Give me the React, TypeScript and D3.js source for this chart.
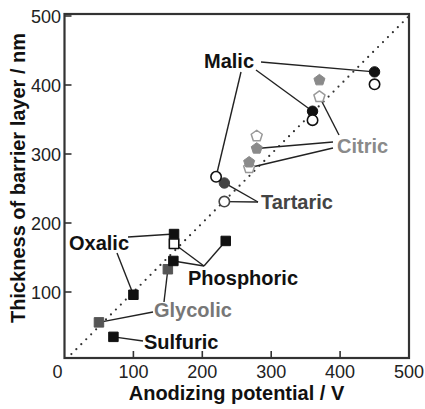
import React, { useEffect, useRef } from "react";
import * as d3 from "d3";

const width = 425;
const height = 409;
const font = "'Liberation Sans', Arial, sans-serif";

// [anodizing potential (V), barrier layer thickness (nm)]
const malicFilled = [[450, 419], [360, 362]];
const malicOpen = [[450, 401], [360, 349], [220, 267]];
const tartaricFilled = [[232, 258]];
const tartaricOpen = [[232, 231]];
const citricFilled = [[370, 407], [279, 308], [268, 288]];
const citricOpen = [[370, 383], [279, 326], [268, 280]];
const oxalicFilled = [[159, 184], [100, 96]];
const phosphoricFilled = [[158, 145], [234, 174]];
const phosphoricOpen = [[159, 170]];
const glycolicFilled = [[150, 133], [50, 56]];
const sulfuricFilled = [[71, 35]];

const xTicks = [100, 200, 300, 400];
const yTicks = [100, 200, 300, 400, 500];
const diagonal = [[10, 10], [500, 500]];

const labels = [
  { text: "Malic", x: 204, y: 68, color: "#111" },
  { text: "Citric", x: 337, y: 153, color: "#8a8a8a" },
  { text: "Tartaric", x: 261, y: 209, color: "#444" },
  { text: "Oxalic", x: 69, y: 250, color: "#111" },
  { text: "Phosphoric", x: 188, y: 285, color: "#111" },
  { text: "Glycolic", x: 154, y: 317, color: "#777" },
  { text: "Sulfuric", x: 144, y: 349, color: "#111" }
];

// label side of each leader (px) -> marker it points to
const leaders = [
  { from: [261, 62], to: malicFilled[0] },
  { from: [256, 70], to: malicFilled[1] },
  { from: [241, 72], to: malicOpen[2] },
  { from: [339, 135], to: citricOpen[0] },
  { from: [333, 142], to: citricFilled[1] },
  { from: [333, 148], to: citricOpen[2] },
  { from: [258, 202], to: tartaricFilled[0] },
  { from: [258, 202], to: tartaricOpen[0] },
  { from: [128, 237], to: oxalicFilled[0] },
  { from: [117, 253], to: oxalicFilled[1] },
  { from: [204, 266], to: phosphoricOpen[0] },
  { from: [204, 266], to: phosphoricFilled[0] },
  { from: [204, 266], to: phosphoricFilled[1] },
  { from: [153, 312], to: glycolicFilled[1] },
  { from: [164, 302], to: glycolicFilled[0] },
  { from: [143, 341], to: sulfuricFilled[0] }
];

const Chart = () => {
  const ref = useRef(null);
  useEffect(() => {
    const svg = d3.select(ref.current);
    svg.selectAll("*").remove();

    const x = d3.scaleLinear().domain([0, 500]).range([64.5, 409]);
    const y = d3.scaleLinear().domain([0, 500]).range([361, 16]);
    const top = 14;
    const bottom = 358;

    // dotted y = x line
    svg
      .append("line")
      .attr("x1", x(diagonal[0][0]))
      .attr("y1", y(diagonal[0][1]))
      .attr("x2", x(diagonal[1][0]))
      .attr("y2", y(diagonal[1][1]))
      .attr("stroke", "#333")
      .attr("stroke-width", 2.2)
      .attr("stroke-linecap", "round")
      .attr("stroke-dasharray", "0 7");

    // leader lines
    svg
      .append("g")
      .selectAll("line")
      .data(leaders)
      .join("line")
      .attr("x1", d => d.from[0])
      .attr("y1", d => d.from[1])
      .attr("x2", d => x(d.to[0]))
      .attr("y2", d => y(d.to[1]))
      .attr("stroke", "#222")
      .attr("stroke-width", 1.4);

    const square = d3.symbol().type(d3.symbolSquare).size(90)();
    const circle = d3.symbol().type(d3.symbolCircle).size(85)();
    const pentagon = d3
      .lineRadial()
      .curve(d3.curveLinearClosed)(
        d3.range(5).map(i => [(i * 2 * Math.PI) / 5, 5.8])
      );

    const marks = (data, path, fill, stroke, sw) =>
      svg
        .append("g")
        .selectAll("path")
        .data(data)
        .join("path")
        .attr("d", path)
        .attr("transform", d => `translate(${x(d[0])},${y(d[1])})`)
        .attr("fill", fill)
        .attr("stroke", stroke)
        .attr("stroke-width", sw)
        .attr("stroke-linejoin", "round");

    marks(citricOpen, pentagon, "#fff", "#999", 1.5);
    marks(citricFilled, pentagon, "#8a8a8a", "#8a8a8a", 1);
    marks(malicFilled, circle, "#111", "#111", 1);
    marks(tartaricFilled, circle, "#444", "#444", 1);
    marks(malicOpen, circle, "#fff", "#111", 1.6);
    marks(tartaricOpen, circle, "#fff", "#444", 1.6);
    marks(glycolicFilled, square, "#555", "#555", 1);
    marks(oxalicFilled, square, "#111", "#111", 1);
    marks(phosphoricFilled, square, "#111", "#111", 1);
    marks(sulfuricFilled, square, "#111", "#111", 1);
    marks(phosphoricOpen, square, "#fff", "#111", 1.6);

    // frame
    svg
      .append("rect")
      .attr("x", x(0))
      .attr("y", top)
      .attr("width", x(500) - x(0))
      .attr("height", bottom - top)
      .attr("fill", "none")
      .attr("stroke", "#333")
      .attr("stroke-width", 2.2);

    // ticks (inward)
    svg
      .append("g")
      .selectAll("line")
      .data(xTicks)
      .join("line")
      .attr("x1", d => x(d))
      .attr("x2", d => x(d))
      .attr("y1", bottom)
      .attr("y2", bottom - 7)
      .attr("stroke", "#333")
      .attr("stroke-width", 1.6);
    svg
      .append("g")
      .selectAll("line")
      .data(yTicks)
      .join("line")
      .attr("x1", x(0))
      .attr("x2", x(0) + 7)
      .attr("y1", d => y(d))
      .attr("y2", d => y(d))
      .attr("stroke", "#333")
      .attr("stroke-width", 1.6);

    // tick labels
    svg
      .append("g")
      .selectAll("text")
      .data([0, ...xTicks, 500])
      .join("text")
      .attr("x", d => (d === 0 ? x(d) - 7 : d === 500 ? width - 1 : x(d)))
      .attr("y", 378)
      .attr("text-anchor", d => (d === 500 ? "end" : "middle"))
      .attr("font-family", font)
      .attr("font-size", 18)
      .attr("fill", "#222")
      .text(d => d);
    svg
      .append("g")
      .selectAll("text")
      .data(yTicks)
      .join("text")
      .attr("x", 61)
      .attr("y", d => y(d) + 6.5)
      .attr("text-anchor", "end")
      .attr("font-family", font)
      .attr("font-size", 18)
      .attr("fill", "#222")
      .text(d => d);

    // axis titles
    svg
      .append("text")
      .attr("x", 236.5)
      .attr("y", 400)
      .attr("text-anchor", "middle")
      .attr("font-family", font)
      .attr("font-size", 20)
      .attr("font-weight", "bold")
      .attr("fill", "#111")
      .text("Anodizing potential / V");
    svg
      .append("text")
      .attr("transform", "translate(25,178) rotate(-90)")
      .attr("text-anchor", "middle")
      .attr("font-family", font)
      .attr("font-size", 20)
      .attr("font-weight", "bold")
      .attr("fill", "#111")
      .text("Thickness of barrier layer / nm");

    // series labels
    svg
      .append("g")
      .selectAll("text")
      .data(labels)
      .join("text")
      .attr("x", d => d.x)
      .attr("y", d => d.y)
      .attr("font-family", font)
      .attr("font-size", 20)
      .attr("font-weight", "bold")
      .attr("fill", d => d.color)
      .text(d => d.text);
  }, []);

  return (
    <svg
      ref={ref}
      width={width}
      height={height}
      style={{ position: "absolute", left: 0, top: 0, background: "#fff" }}
    ></svg>
  );
};

export default function App() {
  return <Chart />;
}
